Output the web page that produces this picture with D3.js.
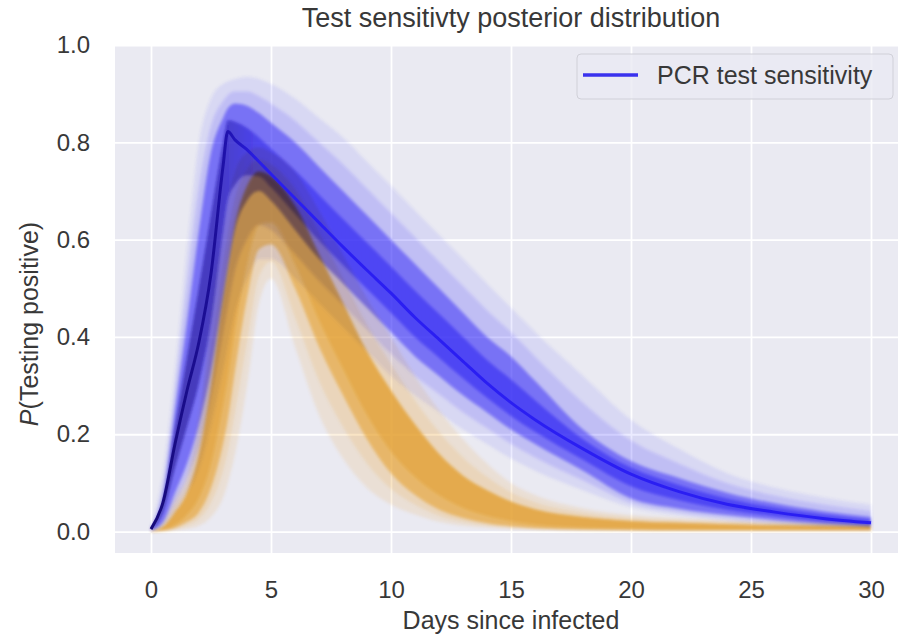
<!DOCTYPE html>
<html>
<head>
<meta charset="utf-8">
<script src="https://cdn.jsdelivr.net/npm/d3@7"></script>
<style>
  html, body { margin: 0; padding: 0; background: #fff; }
  svg { display: block; font-family: "Liberation Sans", Arial, sans-serif; }
</style>
</head>
<body>
<svg width="898" height="637"></svg>
<script>
// days since infection, shared by every series below
const days = [0, 0.5, 1, 1.5, 2, 2.5, 3, 3.2, 3.5, 4, 4.5, 5, 6, 7, 8, 9, 10, 11, 12, 13, 14, 15, 16, 18, 20, 22, 24, 26, 28, 30];

const blueOuterHi = [0.01, 0.12, 0.33, 0.58, 0.8, 0.89, 0.92, 0.925, 0.93, 0.935, 0.93, 0.92, 0.89, 0.85, 0.81, 0.76, 0.71, 0.66, 0.61, 0.56, 0.51, 0.46, 0.41, 0.32, 0.23, 0.17, 0.12, 0.09, 0.07, 0.055];
const blueInnerHi = [0.008, 0.07, 0.25, 0.43, 0.62, 0.78, 0.85, 0.87, 0.88, 0.875, 0.86, 0.84, 0.8, 0.75, 0.7, 0.65, 0.6, 0.55, 0.5, 0.45, 0.4, 0.36, 0.31, 0.21, 0.145, 0.11, 0.08, 0.058, 0.042, 0.03];
const blueMedian = [0.005, 0.06, 0.18, 0.29, 0.39, 0.53, 0.75, 0.822, 0.805, 0.785, 0.76, 0.735, 0.685, 0.635, 0.585, 0.537, 0.49, 0.44, 0.395, 0.35, 0.305, 0.265, 0.23, 0.17, 0.118, 0.082, 0.056, 0.04, 0.027, 0.018];
const blueInnerLo = [0.002, 0.02, 0.08, 0.14, 0.22, 0.33, 0.48, 0.54, 0.62, 0.68, 0.7, 0.68, 0.62, 0.56, 0.51, 0.46, 0.41, 0.36, 0.32, 0.28, 0.245, 0.21, 0.18, 0.125, 0.068, 0.047, 0.034, 0.024, 0.016, 0.011];
const blueOuterLo = [0.001, 0.01, 0.04, 0.08, 0.13, 0.22, 0.33, 0.38, 0.45, 0.52, 0.56, 0.56, 0.52, 0.47, 0.42, 0.37, 0.32, 0.28, 0.245, 0.21, 0.18, 0.15, 0.125, 0.085, 0.05, 0.033, 0.022, 0.014, 0.009, 0.006];

// second set of posterior draws (orange)
const orangeOuterHi = [0.002, 0.02, 0.07, 0.12, 0.24, 0.45, 0.62, 0.68, 0.74, 0.78, 0.79, 0.78, 0.74, 0.66, 0.57, 0.48, 0.4, 0.32, 0.25, 0.19, 0.14, 0.1, 0.075, 0.048, 0.034, 0.028, 0.024, 0.021, 0.019, 0.017];
const orangeInnerHi = [0.001, 0.01, 0.04, 0.08, 0.16, 0.3, 0.48, 0.54, 0.63, 0.71, 0.74, 0.73, 0.67, 0.57, 0.47, 0.37, 0.29, 0.22, 0.16, 0.115, 0.085, 0.062, 0.046, 0.03, 0.022, 0.018, 0.015, 0.013, 0.012, 0.011];
const orangeMedian = [0.001, 0.005, 0.02, 0.05, 0.1, 0.19, 0.34, 0.4, 0.5, 0.62, 0.68, 0.68, 0.6, 0.49, 0.39, 0.29, 0.21, 0.15, 0.105, 0.07, 0.048, 0.033, 0.022, 0.013, 0.009, 0.007, 0.006, 0.006, 0.005, 0.005];
const orangeInnerLo = [0, 0.002, 0.008, 0.02, 0.04, 0.09, 0.18, 0.23, 0.33, 0.48, 0.58, 0.59, 0.5, 0.38, 0.28, 0.19, 0.12, 0.075, 0.045, 0.028, 0.017, 0.011, 0.007, 0.004, 0.003, 0.002, 0.002, 0.002, 0.002, 0.002];
const orangeOuterLo = [0, 0, 0.002, 0.006, 0.012, 0.03, 0.07, 0.1, 0.16, 0.3, 0.47, 0.52, 0.38, 0.24, 0.15, 0.09, 0.055, 0.035, 0.02, 0.012, 0.008, 0.005, 0.004, 0.002, 0.001, 0.001, 0.001, 0.001, 0.001, 0.001];

const xTicks = [0, 5, 10, 15, 20, 25, 30];
const yTicks = [0.0, 0.2, 0.4, 0.6, 0.8, 1.0];

const svg = d3.select('svg');
const plot = { left: 115, top: 45, right: 907, bottom: 553 };
const textColor = '#383838';

const x = d3.scaleLinear().domain([-1.5, 31.5]).range([plot.left, plot.right]);
const y = d3.scaleLinear().domain([-0.044, 1.0]).range([plot.bottom, plot.top]);

const defs = svg.append('defs');
defs.append('clipPath').attr('id', 'clip')
  .append('rect')
  .attr('x', plot.left).attr('y', plot.top)
  .attr('width', plot.right - plot.left).attr('height', plot.bottom - plot.top);
defs.append('filter').attr('id', 'soft')
  .attr('x', '-5%').attr('y', '-5%').attr('width', '110%').attr('height', '110%')
  .append('feGaussianBlur').attr('stdDeviation', 1.6);

// dense draws look navy on the rise and bright blue on the decline
const coreGrad = defs.append('linearGradient').attr('id', 'core')
  .attr('gradientUnits', 'userSpaceOnUse')
  .attr('x1', x(0)).attr('x2', x(6)).attr('y1', 0).attr('y2', 0);
coreGrad.append('stop').attr('offset', '0%').attr('stop-color', '#160a78');
coreGrad.append('stop').attr('offset', '45%').attr('stop-color', '#1c0e9a');
coreGrad.append('stop').attr('offset', '75%').attr('stop-color', '#2a1ee8');
coreGrad.append('stop').attr('offset', '100%').attr('stop-color', '#2a1ef2');

// background
svg.append('rect')
  .attr('x', plot.left).attr('y', plot.top)
  .attr('width', plot.right - plot.left).attr('height', plot.bottom - plot.top)
  .attr('fill', '#eaeaf2');

// grid + tick labels
const xAxis = svg.append('g')
  .attr('transform', `translate(0,${plot.bottom})`)
  .call(d3.axisBottom(x).tickValues(xTicks).tickSize(-(plot.bottom - plot.top)).tickPadding(28).tickFormat(d3.format('d')));
const yAxis = svg.append('g')
  .attr('transform', `translate(${plot.left},0)`)
  .call(d3.axisLeft(y).tickValues(yTicks).tickSize(-(plot.right - plot.left)).tickPadding(25).tickFormat(d3.format('.1f')));

[xAxis, yAxis].forEach(a => {
  a.select('.domain').remove();
  a.selectAll('line').attr('stroke', '#fff').attr('stroke-width', 1.8);
  a.selectAll('text').attr('fill', textColor).style('font-size', '24px');
});

const band = (lo, hi) => d3.area()
  .x((d, i) => x(days[i]))
  .y0((d, i) => y(lo[i]))
  .y1((d, i) => y(hi[i]))
  .curve(d3.curveMonotoneX)(days);
const mid = (a, b) => a.map((v, i) => (v + b[i]) / 2);

const marks = svg.append('g').attr('clip-path', 'url(#clip)');

// orange draws
const orange = marks.append('g').attr('filter', 'url(#soft)');
orange.append('path').attr('d', band(orangeOuterLo, orangeOuterHi))
  .attr('fill', 'rgb(235,170,70)').attr('fill-opacity', 0.16);
orange.append('path').attr('d', band(mid(orangeOuterLo, orangeInnerLo), mid(orangeOuterHi, orangeInnerHi)))
  .attr('fill', 'rgb(232,166,60)').attr('fill-opacity', 0.18);
orange.append('path').attr('d', band(orangeInnerLo, orangeInnerHi))
  .attr('fill', 'rgb(228,162,50)').attr('fill-opacity', 0.6);
orange.append('path').attr('d', band(mid(orangeInnerLo, orangeMedian), orangeInnerHi))
  .attr('fill', 'rgb(226,160,45)').attr('fill-opacity', 0.5);

// blue draws, multiplied over the orange
const blue = marks.append('g').attr('filter', 'url(#soft)').style('mix-blend-mode', 'multiply');
blue.append('path').attr('d', band(blueOuterLo, blueOuterHi))
  .attr('fill', 'rgb(90,90,255)').attr('fill-opacity', 0.12);
blue.append('path').attr('d', band(mid(blueOuterLo, blueInnerLo), mid(blueOuterHi, blueInnerHi)))
  .attr('fill', 'rgb(70,65,250)').attr('fill-opacity', 0.16);
blue.append('path').attr('d', band(blueInnerLo, blueInnerHi))
  .attr('fill', 'rgb(50,40,245)').attr('fill-opacity', 0.5);
blue.append('path').attr('d', band(mid(blueInnerLo, blueMedian), mid(blueInnerHi, blueMedian)))
  .attr('fill', 'url(#core)').attr('fill-opacity', 0.55);

// median PCR sensitivity
marks.append('path')
  .attr('d', d3.line().x((d, i) => x(days[i])).y((d, i) => y(blueMedian[i])).curve(d3.curveMonotoneX)(days))
  .attr('fill', 'none')
  .attr('stroke', 'url(#core)')
  .attr('stroke-width', 3)
  .attr('stroke-linejoin', 'round');

// title and axis labels
svg.append('text')
  .attr('x', (plot.left + plot.right) / 2).attr('y', 27)
  .attr('text-anchor', 'middle').attr('fill', textColor).style('font-size', '27px')
  .text('Test sensitivty posterior distribution');

svg.append('text')
  .attr('x', (plot.left + plot.right) / 2).attr('y', 629)
  .attr('text-anchor', 'middle').attr('fill', textColor).style('font-size', '25px')
  .text('Days since infected');

const ylab = svg.append('text')
  .attr('transform', `translate(38,${(plot.top + plot.bottom) / 2 + 25}) rotate(-90)`)
  .attr('text-anchor', 'middle').attr('fill', textColor).style('font-size', '25px');
ylab.append('tspan').attr('font-style', 'italic').text('P');
ylab.append('tspan').text('(Testing positive)');

// legend
const legend = svg.append('g');
legend.append('rect')
  .attr('x', 577).attr('y', 54).attr('width', 316).attr('height', 45).attr('rx', 4)
  .attr('fill', '#eaeaf2').attr('fill-opacity', 0.8)
  .attr('stroke', '#d0d0d8').attr('stroke-width', 1);
legend.append('line')
  .attr('x1', 583).attr('x2', 638).attr('y1', 75).attr('y2', 75)
  .attr('stroke', '#3a32ee').attr('stroke-width', 3.5);
legend.append('text')
  .attr('x', 657).attr('y', 84).attr('fill', textColor).style('font-size', '25px')
  .text('PCR test sensitivity');
</script>
</body>
</html>
